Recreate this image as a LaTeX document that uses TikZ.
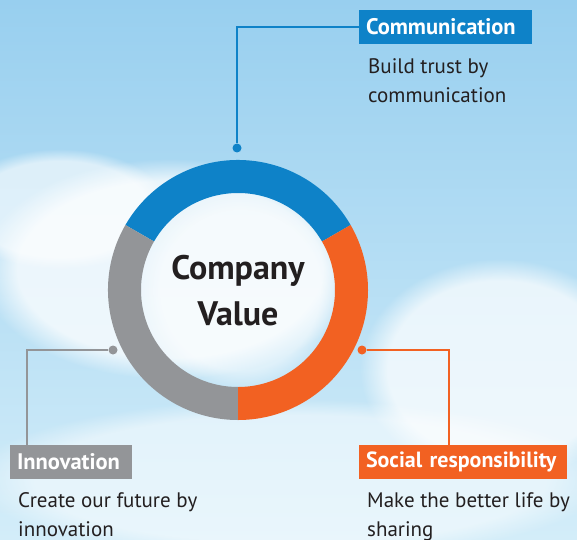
\documentclass[tikz,border=0pt]{standalone}
\usepackage{fontspec}
\setmainfont{PT Sans}
\usetikzlibrary{fadings}
\definecolor{cblue}{HTML}{0E82C8}
\definecolor{corange}{HTML}{F26122}
\definecolor{cgray}{HTML}{939598}
\definecolor{skytop}{HTML}{98CFEF}
\definecolor{skybot}{HTML}{D3EDF9}
\definecolor{txt}{HTML}{231F20}
\begin{document}
\begin{tikzpicture}[x=1pt,y=1pt,
  tag/.style={inner ysep=0pt, inner xsep=7pt, minimum height=34pt, text=white,
    font=\fontsize{22.5}{26}\selectfont\bfseries, align=left},
  desc/.style={inner sep=0pt, text=txt, font=\fontsize{21}{29}\selectfont, align=left, anchor=north west},
  dot/.style={circle, inner sep=0pt, minimum size=9pt},
  link/.style={line width=1.1pt}]
\useasboundingbox (0,0) rectangle (577,539);
% sky
\shade[top color=skytop, bottom color=skybot] (0,0) rectangle (577,539);
\fill[white, opacity=0.75, path fading=circle with fuzzy edge 20 percent] (170,270) ellipse (190 and 110);
\fill[white, opacity=0.6, path fading=circle with fuzzy edge 20 percent] (60,330) ellipse (110 and 60);
\fill[white, opacity=0.7, path fading=circle with fuzzy edge 20 percent] (500,170) ellipse (140 and 110);
\fill[white, opacity=0.5, path fading=circle with fuzzy edge 20 percent] (290,60) ellipse (320 and 80);
\fill[white, opacity=0.5, path fading=circle with fuzzy edge 20 percent] (240,249) circle (100);
% ring
\coordinate (c) at (238,249);
\fill[cblue] ([shift={(30:130)}]c) arc (30:150:130) -- ([shift={(150:97)}]c) arc (150:30:97) -- cycle;
\fill[cgray] ([shift={(150:130)}]c) arc (150:270:130) -- ([shift={(270:97)}]c) arc (270:150:97) -- cycle;
\fill[corange] ([shift={(-90:130)}]c) arc (-90:30:130) -- ([shift={(30:97)}]c) arc (30:-90:97) -- cycle;
\node[font=\fontsize{34}{46}\selectfont\bfseries, text=txt, align=center] (title) at (238,248) {Company\\Value};
% tags
\node[tag, fill=cblue, text width=159pt] (comm) at (445.5,512) {\mbox{Communication}};
\node[tag, fill=cgray, text width=108pt] (inno) at (71,77) {\mbox{Innovation}};
\node[tag, fill=corange, text width=194pt, font=\fontsize{22}{26}\selectfont\bfseries] (soc) at (463,77) {\mbox{Social responsibility}};
% descriptions
\node[desc] (dcomm) at (368,481) {Build trust by\\communication};
\node[desc] (dinno) at (18,47) {Create our future by\\innovation};
\node[desc] (dsoc) at (367,47) {Make the better life by\\sharing};
% connectors
\node[dot, fill=cblue] (pc) at (237,391) {};
\node[dot, fill=cgray] (pi) at (113,189) {};
\node[dot, fill=corange] (ps) at (362,189) {};
\coordinate (ki) at (27,189);
\coordinate (ks) at (449,189);
\draw[link, cblue] (pc) |- (comm.west);
\draw[link, cgray] (pi) -- (ki) -- (ki |- inno.north);
\draw[link, corange] (ps) -- (ks) -- (ks |- soc.north);
\end{tikzpicture}
\end{document}
